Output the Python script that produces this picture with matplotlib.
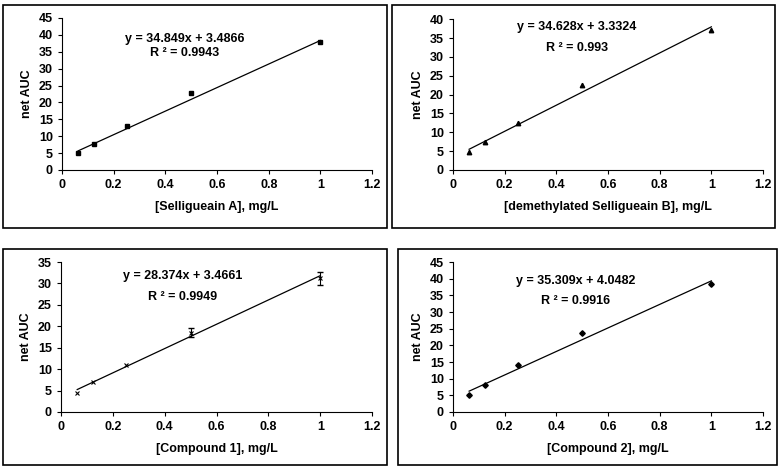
import numpy as np
import matplotlib
matplotlib.use("Agg")
import matplotlib.pyplot as plt
from matplotlib.patches import Rectangle

plt.rcParams['font.family'] = ['Liberation Sans', 'DejaVu Sans']
plt.rcParams['font.weight'] = 'bold'

# concentraciones (mg/L)
conc = [0.0625, 0.125, 0.25, 0.5, 1.0]

# net AUC por compuesto
auc_a = [5.0, 7.8, 13.0, 22.7, 38.0]
auc_b = [4.8, 7.3, 12.5, 22.5, 37.0]
auc_c1 = [4.5, 7.0, 11.0, 18.5, 31.2]
auc_c2 = [5.2, 8.2, 14.0, 23.7, 38.5]
err_c1 = [0.0, 0.0, 0.0, 1.0, 1.5]

# pendientes / interceptos / R2 de las rectas
slopes = [34.849, 34.628, 28.374, 35.309]
intercepts = [3.4866, 3.3324, 3.4661, 4.0482]
r2 = ["0.9943", "0.993", "0.9949", "0.9916"]

xlabels = ["[Selligueain A], mg/L", "[demethylated Selligueain B], mg/L",
           "[Compound 1], mg/L", "[Compound 2], mg/L"]
ymaxes = [45, 40, 35, 45]
markers = ['s', '^', 'x', 'D']
series = [auc_a, auc_b, auc_c1, auc_c2]

fig = plt.figure(figsize=(7.79, 4.67), dpi=100)

# posiciones de los ejes y marcos (fracciones de figura)
axpos = [[0.0796, 0.636, 0.398, 0.3255],
         [0.5815, 0.636, 0.398, 0.323],
         [0.0783, 0.1178, 0.3995, 0.321],
         [0.5815, 0.1178, 0.398, 0.321]]
frames = [[3, 5, 387, 228], [392, 5, 775, 228],
          [3, 249, 387, 465], [398, 249, 777, 465]]
textpos = [(0.476, 38.8, 34.7), (0.48, 38.0, 32.4),
           (0.47, 31.7, 26.8), (0.475, 39.3, 33.3)]

for i in range(4):
    x0, y0, x1, y1 = frames[i]
    fig.add_artist(Rectangle((x0 / 779, 1 - y1 / 467), (x1 - x0) / 779, (y1 - y0) / 467,
                             transform=fig.transFigure, fill=False,
                             edgecolor='black', linewidth=1.2))

    ax = fig.add_axes(axpos[i])
    y = series[i]
    if i == 2:
        ax.errorbar(conc[3:], y[3:], yerr=err_c1[3:], fmt='none', ecolor='black',
                    elinewidth=0.8, capsize=2.5)
        ax.plot(conc, y, 'x', color='black', markersize=3.5, mew=0.8)
    else:
        ms = 3.2 if markers[i] != 'D' else 2.8
        ax.plot(conc, y, markers[i], color='black', markersize=ms)

    xs = np.array([conc[0], conc[-1]])
    ax.plot(xs, slopes[i] * xs + intercepts[i], color='black', linewidth=0.9)

    tx, ty1, ty2 = textpos[i]
    ax.text(tx, ty1, f"y = {slopes[i]}x + {intercepts[i]}", ha='center', va='center',
            fontsize=9, fontweight='bold')
    ax.text(tx, ty2, f"R ² = {r2[i]}", ha='center', va='center',
            fontsize=9, fontweight='bold')

    ax.set_xlim(0, 1.2)
    ax.set_ylim(0, ymaxes[i])
    ax.set_xticks([0, 0.2, 0.4, 0.6, 0.8, 1.0, 1.2])
    ax.set_xticklabels(["0", "0.2", "0.4", "0.6", "0.8", "1", "1.2"])
    ax.set_yticks(np.arange(0, ymaxes[i] + 1, 5))
    ax.tick_params(labelsize=9, length=3, width=0.8, direction='out')
    for lab in ax.get_xticklabels() + ax.get_yticklabels():
        lab.set_fontweight('bold')
    ax.spines['top'].set_visible(False)
    ax.spines['right'].set_visible(False)
    ax.spines['left'].set_linewidth(0.8)
    ax.spines['bottom'].set_linewidth(0.8)
    ax.set_xlabel(xlabels[i], fontsize=9, fontweight='bold', labelpad=7)
    ax.set_ylabel("net AUC", fontsize=9, fontweight='bold', labelpad=4)

fig.savefig("out.png", dpi=100)
